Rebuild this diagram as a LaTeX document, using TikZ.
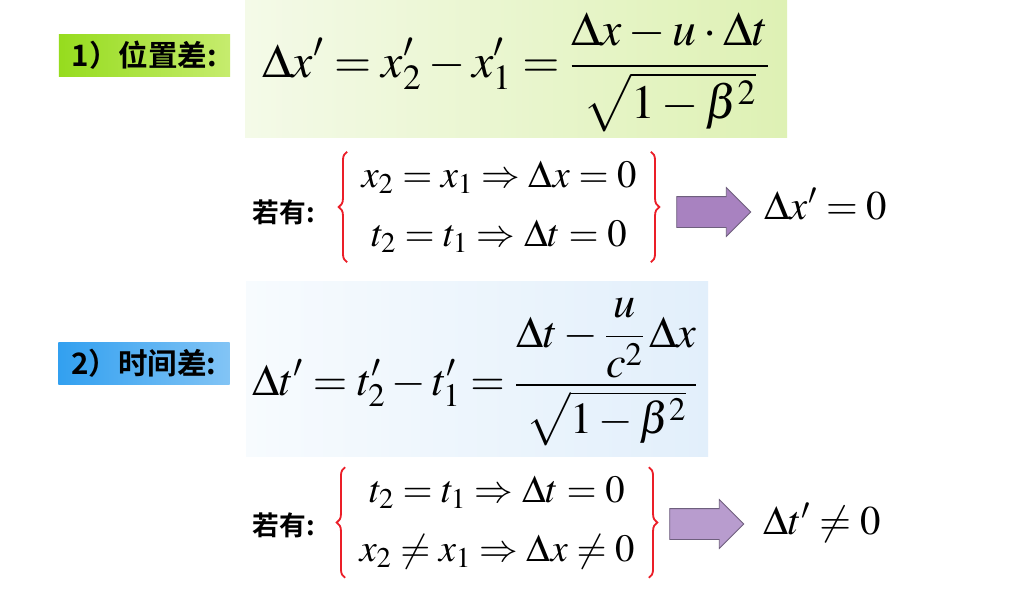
\documentclass[tikz,border=0pt]{standalone}
\usepackage{mathptmx}
\usepackage{fontspec}
\newfontfamily\cjk{Noto Sans CJK SC}[BoldFont={Noto Sans CJK SC Bold}]
\usetikzlibrary{shapes.arrows,decorations.pathreplacing}

\definecolor{limeleft}{RGB}{150,220,30}
\definecolor{limemid}{RGB}{242,250,218}
\definecolor{limeright}{RGB}{198,236,110}
\definecolor{skyleft}{RGB}{50,160,240}
\definecolor{skymid}{RGB}{236,246,254}
\definecolor{skyright}{RGB}{130,196,245}
\definecolor{greenpale}{RGB}{244,250,232}
\definecolor{greendeep}{RGB}{222,241,180}
\definecolor{bluepale}{RGB}{247,251,254}
\definecolor{bluedeep}{RGB}{226,239,251}
\definecolor{arrowfill}{RGB}{168,130,192}
\definecolor{arrowlight}{RGB}{184,156,206}
\definecolor{arrowline}{RGB}{110,95,125}
\definecolor{bracered}{RGB}{235,30,40}

\tikzset{
  labelbox/.style={minimum width=4.28cm, minimum height=1.05cm, inner sep=0pt,
    font=\cjk\bfseries\fontsize{21}{21}\selectfont},
  given/.style={inner sep=0pt, font=\cjk\bfseries\fontsize{19}{19}\selectfont},
  formula/.style={inner sep=0pt},
  system/.style={align=center, inner xsep=10pt, inner ysep=0pt, minimum height=2.75cm,
    font=\fontsize{27.5}{42}\selectfont},
  bigarrow/.style={single arrow, draw=arrowline, fill=arrowfill, line width=0.6pt,
    inner xsep=0pt, inner ysep=0.375cm, minimum height=1.85cm,
    single arrow head extend=0.225cm, single arrow tip angle=90},
  redbrace/.style={draw=bracered, line width=1.3pt, decorate, decoration={brace, amplitude=6pt}}
}

\begin{document}
\begin{tikzpicture}[x=0.025cm, y=-0.025cm]
\useasboundingbox[fill=white] (0,0) rectangle (1025,595);

% Draw the shaded backgrounds of the two formulas
\shade[left color=greenpale, right color=greendeep] (245,0) rectangle (787,137);
\shade[left color=bluepale, right color=bluedeep] (246,281) rectangle (708,456);

% 1) position difference
\node[labelbox, left color=limeleft, middle color=limemid, right color=limeright] (lab1) at (144.5,55) {1）位置差:};
\node[formula, font=\fontsize{34}{34}\selectfont] (f1) at (516,72)
  {$\displaystyle \Delta x' = x_2' - x_1' = \frac{\Delta x - u\cdot\Delta t}{\sqrt{1-\beta^2}}$};

\node[given] (if1) at (284,212) {若有:};
\node[system] (sys1) at (499,207) {$x_2 = x_1 \Rightarrow \Delta x = 0$\\$t_2 = t_1 \Rightarrow \Delta t = 0$};
\draw[redbrace] (sys1.south west) -- (sys1.north west);
\draw[redbrace] (sys1.north east) -- (sys1.south east);
\node[bigarrow] (ar1) at (706,212) {};
\node[formula, font=\fontsize{29}{29}\selectfont] (res1) at (826,204) {$\Delta x' = 0$};

% 2) time difference
\node[labelbox, left color=skyleft, middle color=skymid, right color=skyright] (lab2) at (144,363) {2）时间差:};
\node[formula, font=\fontsize{31.5}{31.5}\selectfont] (f2) at (475,372)
  {$\displaystyle \Delta t' = t_2' - t_1' = \frac{\Delta t - \displaystyle\frac{u}{c^2}\,\Delta x}{\sqrt{1-\beta^2}}$};

\node[given] (if2) at (284,525) {若有:};
\node[system] (sys2) at (497,522.5) {$t_2 = t_1 \Rightarrow \Delta t = 0$\\$x_2 \neq x_1 \Rightarrow \Delta x \neq 0$};
\draw[redbrace] (sys2.south west) -- (sys2.north west);
\draw[redbrace] (sys2.north east) -- (sys2.south east);
\node[bigarrow, fill=arrowlight] (ar2) at (699,524) {};
\node[formula, font=\fontsize{29}{29}\selectfont] (res2) at (822,523) {$\Delta t' \neq 0$};
\end{tikzpicture}
\end{document}
